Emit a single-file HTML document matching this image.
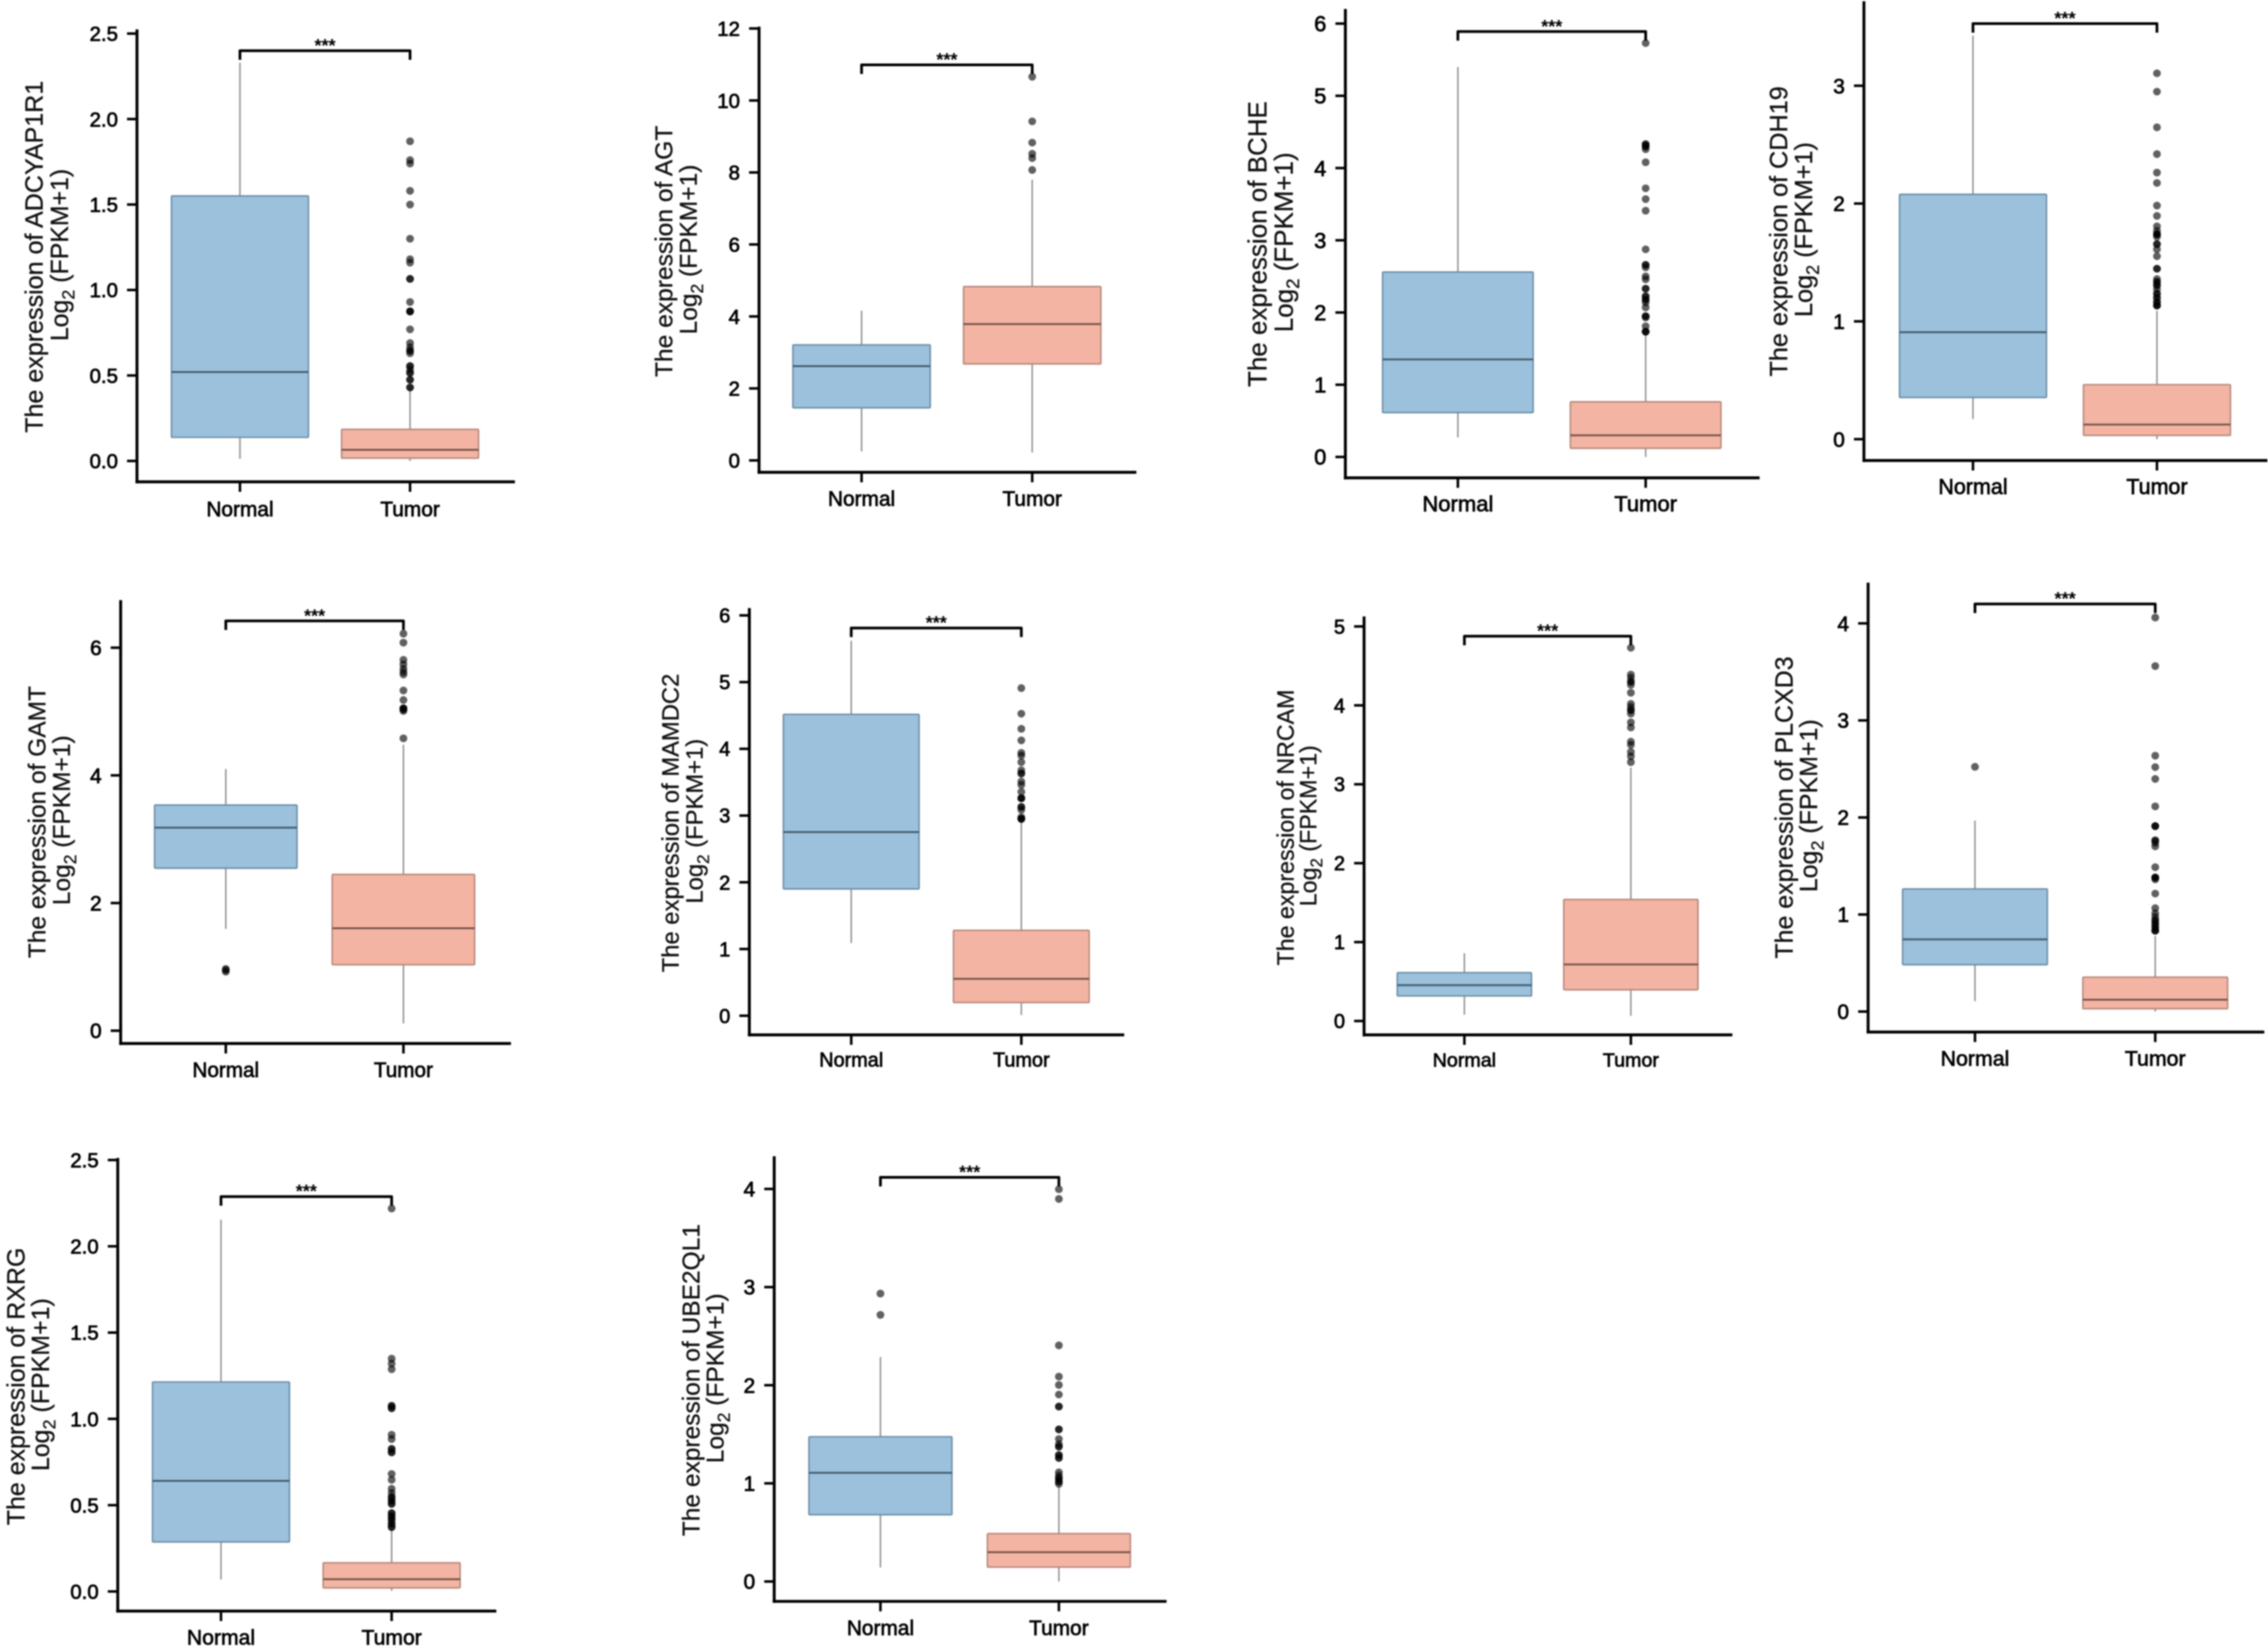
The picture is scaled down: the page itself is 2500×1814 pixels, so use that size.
<!DOCTYPE html>
<html lang="en">
<head>
<meta charset="utf-8">
<title>Expression of ten genes in normal and tumor tissue</title>
<style>
  html, body { margin: 0; padding: 0; background: #fff; }
  body { width: 2500px; height: 1814px; overflow: hidden; }
  svg { display: block; filter: blur(0.7px); font-family: "Liberation Sans", Arial, sans-serif; }
</style>
</head>
<body>
<svg id="figure" xmlns="http://www.w3.org/2000/svg" width="2500" height="1814" viewBox="0 0 2500 1814"></svg>
<script>
/* ---------- data ---------- */
const genes = ['ADCYAP1R1', 'AGT', 'BCHE', 'CDH19', 'GAMT', 'MAMDC2', 'NRCAM', 'PLCXD3', 'RXRG', 'UBE2QL1'];
const categories = ['Normal', 'Tumor'];
const titlePrefix = 'The expression of ';
const unitLog = 'Log';
const unitBase = '2';
const unitRest = ' (FPKM+1)';
const significance = '***';

const yTickValues = [
  [0, 0.5, 1, 1.5, 2, 2.5],
  [0, 2, 4, 6, 8, 10, 12],
  [0, 1, 2, 3, 4, 5, 6],
  [0, 1, 2, 3],
  [0, 2, 4, 6],
  [0, 1, 2, 3, 4, 5, 6],
  [0, 1, 2, 3, 4, 5],
  [0, 1, 2, 3, 4],
  [0, 0.5, 1, 1.5, 2, 2.5],
  [0, 1, 2, 3, 4]
];
const yTickDecimals = [1, 0, 0, 0, 0, 0, 0, 0, 1, 0];

/* each row: whisker low, q1, median, q3, whisker high */
const normalStats = [
  [0.012, 0.138, 0.52, 1.55, 2.33],
  [0.25, 1.46, 2.62, 3.21, 4.16],
  [0.27, 0.615, 1.35, 2.56, 5.40],
  [0.171, 0.354, 0.908, 2.078, 3.425],
  [1.594, 2.546, 3.18, 3.536, 4.10],
  [1.09, 1.90, 2.753, 4.517, 5.62],
  [0.08, 0.317, 0.453, 0.612, 0.858],
  [0.107, 0.483, 0.744, 1.263, 1.968],
  [0.069, 0.287, 0.641, 1.214, 2.154],
  [0.142, 0.68, 1.107, 1.475, 2.288]
];
const tumorStats = [
  [0.0, 0.016, 0.065, 0.185, 0.42],
  [0.22, 2.68, 3.79, 4.83, 7.8],
  [0.0, 0.12, 0.30, 0.764, 1.71],
  [0.0, 0.032, 0.124, 0.463, 1.09],
  [0.114, 1.034, 1.605, 2.448, 4.48],
  [0.01, 0.198, 0.552, 1.28, 2.91],
  [0.066, 0.396, 0.717, 1.54, 3.21],
  [0.0, 0.029, 0.122, 0.354, 0.78],
  [0.004, 0.021, 0.071, 0.166, 0.364],
  [0.0, 0.146, 0.298, 0.487, 0.968]
];
const normalOutliers = [
  [], [], [], [],
  [0.968, 0.925, 0.95],
  [], [],
  [2.522],
  [],
  [2.934, 2.717]
];
const tumorOutliers = [
  [1.87, 1.76, 1.74, 1.58, 1.50, 1.30, 1.18, 1.16, 1.065, 1.065, 0.93, 0.875, 0.875, 0.875, 0.77, 0.69, 0.665, 0.645, 0.645, 0.63, 0.555, 0.555, 0.535, 0.515, 0.515, 0.475, 0.475, 0.43, 0.43],
  [10.66, 9.42, 8.83, 8.52, 8.40, 8.07],
  [5.73, 4.33, 4.33, 4.30, 4.30, 4.26, 4.08, 3.72, 3.57, 3.41, 2.875, 2.66, 2.66, 2.625, 2.5, 2.46, 2.33, 2.33, 2.225, 2.225, 2.18, 2.18, 2.14, 2.07, 1.95, 1.95, 1.93, 1.81, 1.735, 1.735, 1.735],
  [3.106, 2.95, 2.647, 2.42, 2.263, 2.175, 1.983, 1.895, 1.807, 1.768, 1.739, 1.739, 1.739, 1.718, 1.656, 1.656, 1.612, 1.553, 1.447, 1.447, 1.359, 1.335, 1.335, 1.306, 1.306, 1.273, 1.235, 1.235, 1.2, 1.2, 1.164, 1.164, 1.135, 1.135, 1.135],
  [6.22, 6.08, 5.81, 5.74, 5.67, 5.62, 5.58, 5.33, 5.18, 5.05, 5.05, 5.05, 5.03, 5.01, 4.58],
  [4.91, 4.527, 4.30, 4.127, 3.94, 3.90, 3.80, 3.68, 3.63, 3.63, 3.51, 3.46, 3.356, 3.26, 3.26, 3.26, 3.13, 3.13, 3.086, 2.976, 2.95, 2.95, 2.95],
  [4.73, 4.39, 4.35, 4.30, 4.30, 4.26, 4.16, 4.02, 3.98, 3.94, 3.94, 3.895, 3.785, 3.72, 3.54, 3.50, 3.41, 3.354, 3.28],
  [4.06, 3.56, 2.637, 2.519, 2.397, 2.114, 1.911, 1.911, 1.911, 1.764, 1.764, 1.739, 1.703, 1.488, 1.381, 1.381, 1.381, 1.363, 1.216, 1.066, 1.0125, 0.977, 0.941, 0.941, 0.905, 0.905, 0.869, 0.869, 0.834, 0.834, 0.834],
  [2.219, 1.349, 1.32, 1.288, 1.076, 1.076, 1.062, 1.062, 0.908, 0.883, 0.826, 0.826, 0.806, 0.806, 0.681, 0.647, 0.595, 0.57, 0.547, 0.547, 0.527, 0.527, 0.508, 0.508, 0.454, 0.454, 0.435, 0.435, 0.416, 0.416, 0.393, 0.393, 0.373, 0.373],
  [3.997, 3.898, 2.406, 2.088, 2.003, 1.905, 1.783, 1.783, 1.55, 1.55, 1.452, 1.40, 1.374, 1.374, 1.289, 1.289, 1.259, 1.259, 1.113, 1.08, 1.052, 1.052, 1.019, 1.019, 0.995]
];
const bracketValues = [2.4, 10.99, 5.89, 3.528, 6.42, 5.81, 4.877, 4.2, 2.288, 4.118];

/* ---------- panel frames (layout only) ---------- */
const frames = [
  { ax: 151,    top: 34,   bottom: 531,    right: 566,    y0: 508,    yMax: 37,     xN: 264.5,  xT: 452,    hw: 75.5, fs: 22.5, xfs: 23,   xl: 38, lb1: 47,     lb2: 75,     cy: 283,  tlen: 388, tfs: 27.4 },
  { ax: 836.7,  top: 31,   bottom: 520.5,  right: 1251,   y0: 507.4,  yMax: 31.4,   xN: 949.7,  xT: 1137.8, hw: 75.7, fs: 22.5, xfs: 23,   xl: 37, lb1: 741,    lb2: 768,    cy: 277,  tlen: 277, tfs: 27 },
  { ax: 1483,   top: 11.5, bottom: 526.6,  right: 1938,   y0: 503.6,  yMax: 26,     xN: 1607,   xT: 1814,   hw: 83,   fs: 24,   xfs: 24.3, xl: 37, lb1: 1396,   lb2: 1424.8, cy: 269,  tlen: 315, tfs: 28.6 },
  { ax: 2054.6, top: 3,    bottom: 507.5,  right: 2497.8, y0: 484,    yMax: 94.5,   xN: 2174.8, xT: 2377.6, hw: 81,   fs: 23,   xfs: 23.7, xl: 37, lb1: 1970,   lb2: 1997.6, cy: 255,  tlen: 320, tfs: 27.8 },
  { ax: 133,    top: 663,  bottom: 1150,   right: 561.6,  y0: 1135.9, yMax: 713.8,  xN: 248.9,  xT: 444.7,  hw: 78.5, fs: 23,   xfs: 22.8, xl: 37, lb1: 50,     lb2: 77,     cy: 906,  tlen: 300, tfs: 27 },
  { ax: 826,    top: 671.7, bottom: 1140.5, right: 1237.6, y0: 1119.4, yMax: 678.2, xN: 938.3,  xT: 1125.8, hw: 74.8, fs: 22,   xfs: 21.9, xl: 35, lb1: 748,    lb2: 774.7,  cy: 907,  tlen: 329, tfs: 26.2 },
  { ax: 1503.6, top: 681,  bottom: 1140.5, right: 1908,   y0: 1125.2, yMax: 690.4,  xN: 1614.2, xT: 1797.7, hw: 74,   fs: 22,   xfs: 21.7, xl: 35, lb1: 1426,   lb2: 1451,   cy: 912,  tlen: 304, tfs: 25.6 },
  { ax: 2059.2, top: 643.7, bottom: 1137.4, right: 2494.3, y0: 1114.8, yMax: 687,   xN: 2177,   xT: 2375.7, hw: 79.8, fs: 23,   xfs: 23.5, xl: 37, lb1: 1976,   lb2: 2003,   cy: 890,  tlen: 333, tfs: 27.5 },
  { ax: 129.8,  top: 1277.7, bottom: 1775.5, right: 545.5, y0: 1753.9, yMax: 1278.4, xN: 243.6, xT: 431.7,  hw: 75.5, fs: 22.5, xfs: 23.3, xl: 37, lb1: 27,     lb2: 54,     cy: 1528, tlen: 306, tfs: 27.5 },
  { ax: 853.4,  top: 1275.9, bottom: 1764.8, right: 1284.3, y0: 1742.9, yMax: 1310.3, xN: 970.5, xT: 1167.2, hw: 78.8, fs: 23,   xfs: 23,   xl: 37, lb1: 771,    lb2: 797.5,  cy: 1521, tlen: 344, tfs: 27 }
];

const NS = 'http://www.w3.org/2000/svg';
const root = document.getElementById('figure');

function mk(tag, attrs, parent) {
  const el = document.createElementNS(NS, tag);
  for (const k in attrs) el.setAttribute(k, attrs[k]);
  parent.appendChild(el);
  return el;
}

const boxFill = ['#9bc1dc', '#f4b4a3'];
const boxEdge = ['#6a8ca6', '#b5867a'];
const medianColor = ['#41596b', '#6f5248'];

genes.forEach(function (gene, p) {
  const f = frames[p];
  const ticks = yTickValues[p];
  const maxTick = ticks[ticks.length - 1];
  const yScale = function (v) { return f.y0 + (v / maxTick) * (f.yMax - f.y0); };
  const xScale = function (i) { return f.xN + i * (f.xT - f.xN); };

  const g = mk('g', {}, root);
  
  

  /* boxes, whiskers, outliers */
  [normalStats[p], tumorStats[p]].forEach(function (s, c) {
    const cx = xScale(c);
    const catName = categories[c].toLowerCase();

    const whisker = mk('line', { x1: cx, x2: cx, y1: yScale(s[0]), y2: yScale(s[4]), stroke: '#8f8f8f', 'stroke-width': 1.6 }, g);
    
    

    const box = mk('rect', { x: cx - f.hw, width: 2 * f.hw, y: yScale(s[3]), height: yScale(s[1]) - yScale(s[3]), fill: boxFill[c], stroke: boxEdge[c], 'stroke-width': 1.6, rx: 1 }, g);
    
    

    const median = mk('line', { x1: cx - f.hw, x2: cx + f.hw, y1: yScale(s[2]), y2: yScale(s[2]), stroke: medianColor[c], 'stroke-width': 2 }, g);
    
    

    const pts = c === 0 ? normalOutliers[p] : tumorOutliers[p];
    pts.forEach(function (v) {
      const dot = mk('circle', { cx: cx, cy: yScale(v), r: 4.3, fill: '#000', 'fill-opacity': 0.62 }, g);
      
      
    });
  });

  /* axes */
  const yAxis = mk('line', { x1: f.ax, x2: f.ax, y1: f.top, y2: f.bottom, stroke: '#000', 'stroke-width': 3.2, 'stroke-linecap': 'square' }, g);
  
  

  const xAxis = mk('line', { x1: f.ax, x2: f.right, y1: f.bottom, y2: f.bottom, stroke: '#000', 'stroke-width': 3.2, 'stroke-linecap': 'square' }, g);
  
  

  ticks.forEach(function (v) {
    const y = yScale(v);
    const tick = mk('line', { x1: f.ax - 11, x2: f.ax, y1: y, y2: y, stroke: '#000', 'stroke-width': 2.8 }, g);
    
    

    const label = mk('text', { x: f.ax - 21, y: y + f.fs * 0.36, 'text-anchor': 'end', 'font-size': f.fs, fill: '#000', stroke: '#000', 'stroke-width': 0.75 }, g);
    label.textContent = v.toFixed(yTickDecimals[p]);
    
    
  });

  categories.forEach(function (name, c) {
    const cx = xScale(c);
    const tick = mk('line', { x1: cx, x2: cx, y1: f.bottom, y2: f.bottom + 11, stroke: '#000', 'stroke-width': 2.8 }, g);
    
    

    const label = mk('text', { x: cx, y: f.bottom + f.xl, 'text-anchor': 'middle', 'font-size': f.xfs, fill: '#000', stroke: '#000', 'stroke-width': 0.7 }, g);
    label.textContent = name;
    
    
  });

  /* y-axis titles */
  const title = mk('text', { transform: 'translate(' + f.lb1 + ',' + f.cy + ') rotate(-90)', 'text-anchor': 'middle', 'font-size': f.tfs, fill: '#111', stroke: '#111', 'stroke-width': 0.3 }, g);
  title.textContent = titlePrefix + gene;
  title.setAttribute('textLength', f.tlen);
  title.setAttribute('lengthAdjust', 'spacingAndGlyphs');
  
  

  const unit = mk('text', { transform: 'translate(' + f.lb2 + ',' + (f.cy - 2) + ') rotate(-90)', 'text-anchor': 'middle', 'font-size': f.tfs, fill: '#111', stroke: '#111', 'stroke-width': 0.3 }, g);
  
  
  const t1 = mk('tspan', {}, unit);
  t1.textContent = unitLog;
  const t2 = mk('tspan', { dy: f.tfs * 0.26, 'font-size': f.tfs * 0.72 }, unit);
  t2.textContent = unitBase;
  const t3 = mk('tspan', { dy: -f.tfs * 0.26 }, unit);
  t3.textContent = unitRest;

  /* significance bracket */
  const by = yScale(bracketValues[p]);
  const bracket = mk('path', { d: 'M' + xScale(0) + ' ' + (by + 10) + 'V' + by + 'H' + xScale(1) + 'V' + (by + 10), fill: 'none', stroke: '#000', 'stroke-width': 3, 'stroke-linejoin': 'round' }, g);
  
  

  const stars = mk('text', { x: (xScale(0) + xScale(1)) / 2, y: by + 1, 'text-anchor': 'middle', 'font-size': 20, 'font-weight': 'bold', fill: '#000' }, g);
  stars.textContent = significance;
  
  
});
</script>
</body>
</html>
